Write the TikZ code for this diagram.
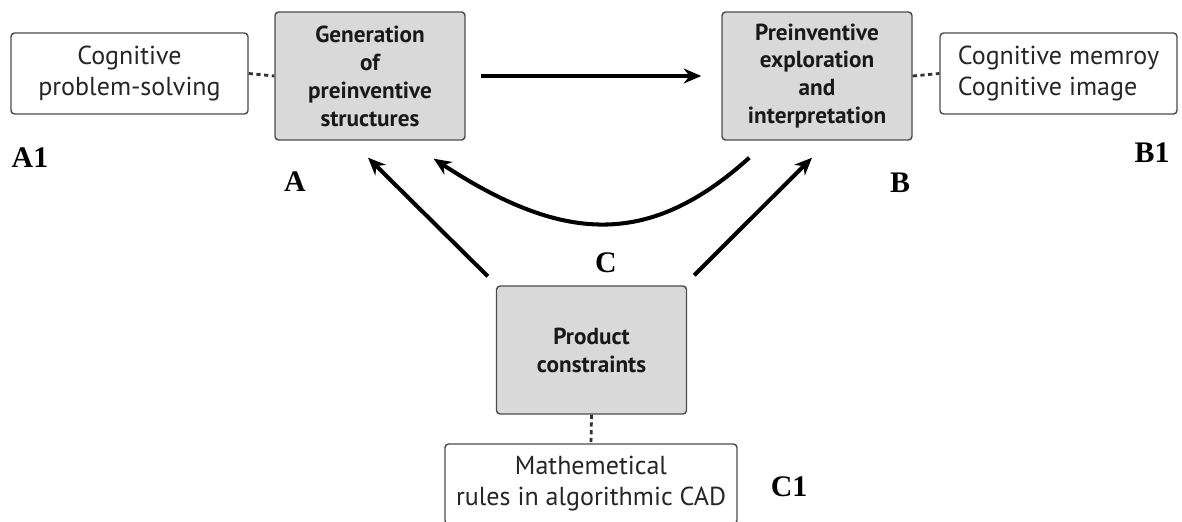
\documentclass[tikz,border=0pt]{standalone}
\usepackage{fontspec}
\setmainfont{Liberation Serif}
\newfontfamily\boxfont{PT Sans}
\usetikzlibrary{arrows.meta}

\begin{document}
\begin{tikzpicture}[x=0.02cm,y=-0.02cm,
    stage/.style={draw=black!70, line width=0.8pt, fill=black!15, rounded corners=2pt,
      minimum width=3.8cm, minimum height=2.56cm, align=center, text=black!90,
      font=\boxfont\bfseries\fontsize{13.2}{15.9}\selectfont},
    note/.style={draw=black!70, line width=0.8pt, fill=white, rounded corners=2pt,
      minimum width=4.74cm, minimum height=1.62cm, align=center, text=black!85,
      font=\boxfont\fontsize{14.8}{17.6}\selectfont},
    tag/.style={font=\bfseries\fontsize{17}{17}\selectfont},
    flow/.style={line width=2.3pt, -{Stealth[length=10pt,width=8.5pt]}},
    link/.style={line width=1.6pt, dash pattern=on 2.4pt off 2pt, black!80}]
  \useasboundingbox (0,0) rectangle (1182,521);
  \clip (0,0) rectangle (1182,521);

  % the three stages
  \node [stage] (gen) at (370,76) {Generation\\of\\preinventive\\structures};
  \node [stage] (expl) at (817,76) {Preinventive\\exploration\\and\\interpretation};
  \node [stage] (prod) at (591.5,350) {Product\\constraints};

  % side notes
  \node [note] (cogps) at (129.5,73.5) {Cognitive\\problem-solving};
  \node [note, align=left] (cogmem) at (1058.5,73.5) {Cognitive memroy\\Cognitive image};
  \node [note, minimum width=5.84cm, minimum height=1.6cm] (math) at (591,484) {Mathemetical\\rules in algorithmic CAD};

  % letters
  \node [tag] (la1) at (30,158) {A1};
  \node [tag] (la) at (295,182) {A};
  \node [tag] (lb) at (900,183) {B};
  \node [tag] (lb1) at (1152,153) {B1};
  \node [tag] (lc) at (606,263) {C};
  \node [tag] (lc1) at (789,487) {C1};

  % dotted links
  \draw [link] (cogps.east) -- (gen.west);
  \draw [link] (expl.east) -- (cogmem.west);
  \draw [link] (prod.south) -- (math.north);

  % arrows
  \draw [flow, shorten <=15*0.02cm, shorten >=20*0.02cm] (gen) -- (expl);
  \draw [flow] ([shift={(-8,-9)}]prod.north west) -- ([shift={(-2,17)}]gen.south);
  \draw [flow] ([shift={(7,-10)}]prod.north east) -- ([shift={(-5,17)}]expl.south);
  \draw [flow] ([shift={(28,17)}]expl.south west) .. controls +(-100,90) and +(130,85) .. ([shift={(-32,18)}]gen.south east);
\end{tikzpicture}
\end{document}
